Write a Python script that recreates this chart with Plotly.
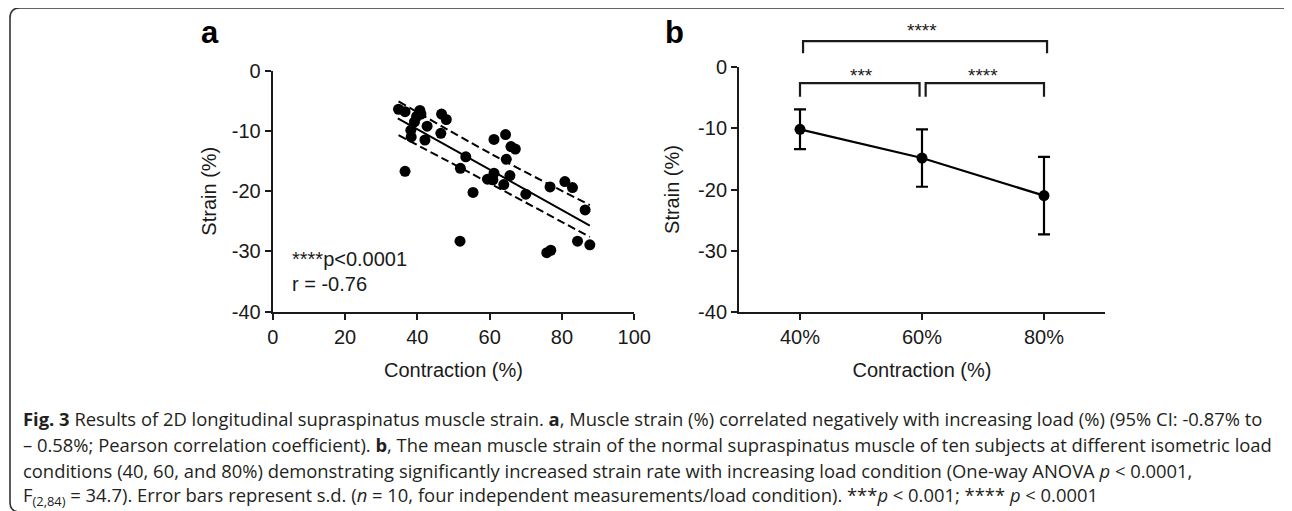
import plotly.graph_objects as go

# page body has an 8px margin; figure sized to fit the 1292x511 window
OFF = 8
W, H = 1292 - OFF, 511 - OFF

# ---------------- data: panel a (scatter + regression) ----------------
contraction = [34.8, 36.6, 36.6, 38.2, 38.3, 39.2, 39.8, 40.7, 41.0, 42.1, 42.7,
               46.7, 48.0, 46.5, 51.9, 53.4, 51.8, 55.4, 59.4, 60.9, 61.2, 61.2,
               64.4, 64.6, 63.9, 65.6, 65.9, 67.1, 70.0, 76.7, 75.8, 76.9, 80.8,
               82.9, 86.4, 84.3, 87.7]
strain = [-6.4, -6.8, -16.7, -9.9, -11.0, -8.5, -7.6, -6.6, -7.2, -11.5, -9.2,
          -7.2, -8.1, -10.4, -16.2, -14.3, -28.3, -20.2, -18.0, -18.1, -11.4, -17.0,
          -10.6, -14.7, -18.9, -17.4, -12.6, -13.0, -20.5, -19.3, -30.2, -29.8, -18.4,
          -19.4, -23.1, -28.3, -28.9]
fit_x = [34.6, 87.7]
fit_y = [-7.9, -25.7]
ci_x = [34.8, 61.0, 87.7]
ci_upper = [-5.1, -14.0, -22.3]
ci_lower = [-10.7, -19.0, -27.6]
a_ticks_x = [0, 20, 40, 60, 80, 100]
a_ticks_y = [0, -10, -20, -30, -40]
a_ticks_y_text = ["0", "-10", "-20", "-30", "-40"]

# ---------------- data: panel b (mean ± sd) ----------------
load = [40, 60, 80]
load_labels = ["40%", "60%", "80%"]
mean_strain = [-10.15, -14.85, -21.0]
sd_strain = [3.25, 4.7, 6.35]
# significance brackets: (x start, x end, bar level, leg bottom, label, label x, label y)
brackets = [
    (40.5, 80.5, 4.3, 2.3, "****", 60, 6.1),
    (40.0, 59.6, -2.6, -4.8, "***", 50, -1.3),
    (60.6, 80.0, -2.6, -4.8, "****", 70, -1.3),
]

INK = "#1a1a1a"
AX_FONT = dict(family="Liberation Sans, Arial, sans-serif", size=20, color=INK)

fig = go.Figure()

# panel a
fig.add_trace(go.Scatter(x=contraction, y=strain, mode="markers", xaxis="x", yaxis="y",
                         marker=dict(size=11, color="black"), showlegend=False))
fig.add_trace(go.Scatter(x=fit_x, y=fit_y, mode="lines", xaxis="x", yaxis="y",
                         line=dict(color="black", width=2), showlegend=False))
for band in (ci_upper, ci_lower):
    fig.add_trace(go.Scatter(x=ci_x, y=band, mode="lines", xaxis="x", yaxis="y",
                             line=dict(color="black", width=2, dash="8px,4px", shape="spline"),
                             showlegend=False))

# panel b
fig.add_trace(go.Scatter(x=load, y=mean_strain, mode="lines+markers", xaxis="x2", yaxis="y2",
                         line=dict(color="black", width=2.2),
                         marker=dict(size=11, color="black"),
                         error_y=dict(type="data", array=sd_strain, visible=True,
                                      color="black", thickness=2.2, width=6),
                         showlegend=False))

# axes geometry (window pixels)
ax_a = dict(l=272.7, r=634.3, t=70.7, b=311.7)
ax_b = dict(l=739.0, r=1105.0, t=67.3, b=311.7)


def xd(p):
    return (p - OFF) / W


def yd(p):
    return 1 - (p - OFF) / H


common_axis = dict(showline=True, linewidth=2, linecolor=INK, ticks="outside",
                   ticklen=6, tickwidth=2, tickcolor=INK, tickfont=AX_FONT,
                   showgrid=False, zeroline=False, automargin=False)

fig.update_layout(
    width=W, height=H,
    margin=dict(l=0, r=0, t=0, b=0, pad=0),
    paper_bgcolor="white", plot_bgcolor="white",
    xaxis=dict(domain=[xd(ax_a["l"]), xd(ax_a["r"])], range=[0, 100],
               tickvals=a_ticks_x, anchor="y",
               title=dict(text="Contraction (%)", font=AX_FONT, standoff=16),
               **common_axis),
    yaxis=dict(domain=[yd(ax_a["b"]), yd(ax_a["t"])], range=[-40, 0],
               tickvals=a_ticks_y, ticktext=a_ticks_y_text, anchor="x",
               title=dict(text="Strain (%)", font=AX_FONT, standoff=10),
               **common_axis),
    xaxis2=dict(domain=[xd(ax_b["l"]), xd(ax_b["r"])], range=[30, 90],
                tickvals=load, ticktext=load_labels, anchor="y2",
                title=dict(text="Contraction (%)", font=AX_FONT, standoff=16),
                **common_axis),
    yaxis2=dict(domain=[yd(ax_b["b"]), yd(ax_b["t"])], range=[-40, 0],
                tickvals=a_ticks_y, ticktext=a_ticks_y_text, anchor="x2",
                title=dict(text="Strain (%)", font=AX_FONT, standoff=13),
                **common_axis),
)

# significance brackets in panel b (data units converted to the axis domain)
xr2, yr2 = (30, 90), (-40, 0)


def bx(v):
    return (v - xr2[0]) / (xr2[1] - xr2[0])


def by(v):
    return (v - yr2[0]) / (yr2[1] - yr2[0])


for x0, x1, lvl, leg, lab, lx, ly in brackets:
    path = (f"M {bx(x0)} {by(leg)} L {bx(x0)} {by(lvl)} "
            f"L {bx(x1)} {by(lvl)} L {bx(x1)} {by(leg)}")
    fig.add_shape(type="path", path=path, xref="x2 domain", yref="y2 domain",
                  line=dict(color=INK, width=2.2))
    fig.add_annotation(x=bx(lx), y=by(ly), xref="x2 domain", yref="y2 domain", text=lab,
                       showarrow=False,
                       font=dict(family="Liberation Sans, Arial, sans-serif", size=19, color=INK),
                       xanchor="center", yanchor="middle")

# statistics text in panel a
fig.add_annotation(x=4.8, y=-31.2, xref="x", yref="y", text="****p&lt;0.0001",
                   showarrow=False, xanchor="left", yanchor="middle", font=AX_FONT)
fig.add_annotation(x=4.8, y=-35.4, xref="x", yref="y", text="r = -0.76",
                   showarrow=False, xanchor="left", yanchor="middle", font=AX_FONT)

# panel letters
for lab, px in (("a", 199), ("b", 663)):
    fig.add_annotation(x=xd(px), y=yd(52), xref="paper", yref="paper",
                       text=f"<b>{lab}</b>", showarrow=False, xanchor="left", yanchor="bottom",
                       font=dict(family="Liberation Sans, Arial, sans-serif", size=31, color="black"))

# rounded frame
x0, y0, x1, y1, r = xd(10), yd(8), xd(1294), yd(512), 10
rx, ry = r / W, r / H
frame = (f"M {x0} {y1 + ry} L {x0} {y0 - ry} Q {x0} {y0} {x0 + rx} {y0} "
         f"L {x1 - rx} {y0} Q {x1} {y0} {x1} {y0 - ry} L {x1} {y1 + ry} "
         f"Q {x1} {y1} {x1 - rx} {y1} L {x0 + rx} {y1} Q {x0} {y1} {x0} {y1 + ry} Z")
fig.add_shape(type="path", path=frame, xref="paper", yref="paper",
              line=dict(color="#333333", width=1.6))

# caption
caption_lines = [
    "<b>Fig. 3</b> Results of 2D longitudinal supraspinatus muscle strain. <b>a</b>, Muscle strain (%) correlated negatively with increasing load (%) (95% CI: -0.87% to",
    "– 0.58%; Pearson correlation coefficient). <b>b</b>, The mean muscle strain of the normal supraspinatus muscle of ten subjects at different isometric load",
    "conditions (40, 60, and 80%) demonstrating significantly increased strain rate with increasing load condition (One-way ANOVA <i>p</i> &lt; 0.0001,",
    "F<sub>(2,84)</sub> = 34.7). Error bars represent s.d. (<i>n</i> = 10, four independent measurements/load condition). ***<i>p</i> &lt; 0.001; **** <i>p</i> &lt; 0.0001",
]
caption_y = [418, 444, 470, 496]
for txt, py in zip(caption_lines, caption_y):
    fig.add_annotation(x=xd(21), y=yd(py), xref="paper", yref="paper", text=txt,
                       showarrow=False, xanchor="left", yanchor="middle", align="left",
                       font=dict(family="Open Sans, sans-serif", size=18.4, color="#231f20"))

fig.write_html("out.html")
